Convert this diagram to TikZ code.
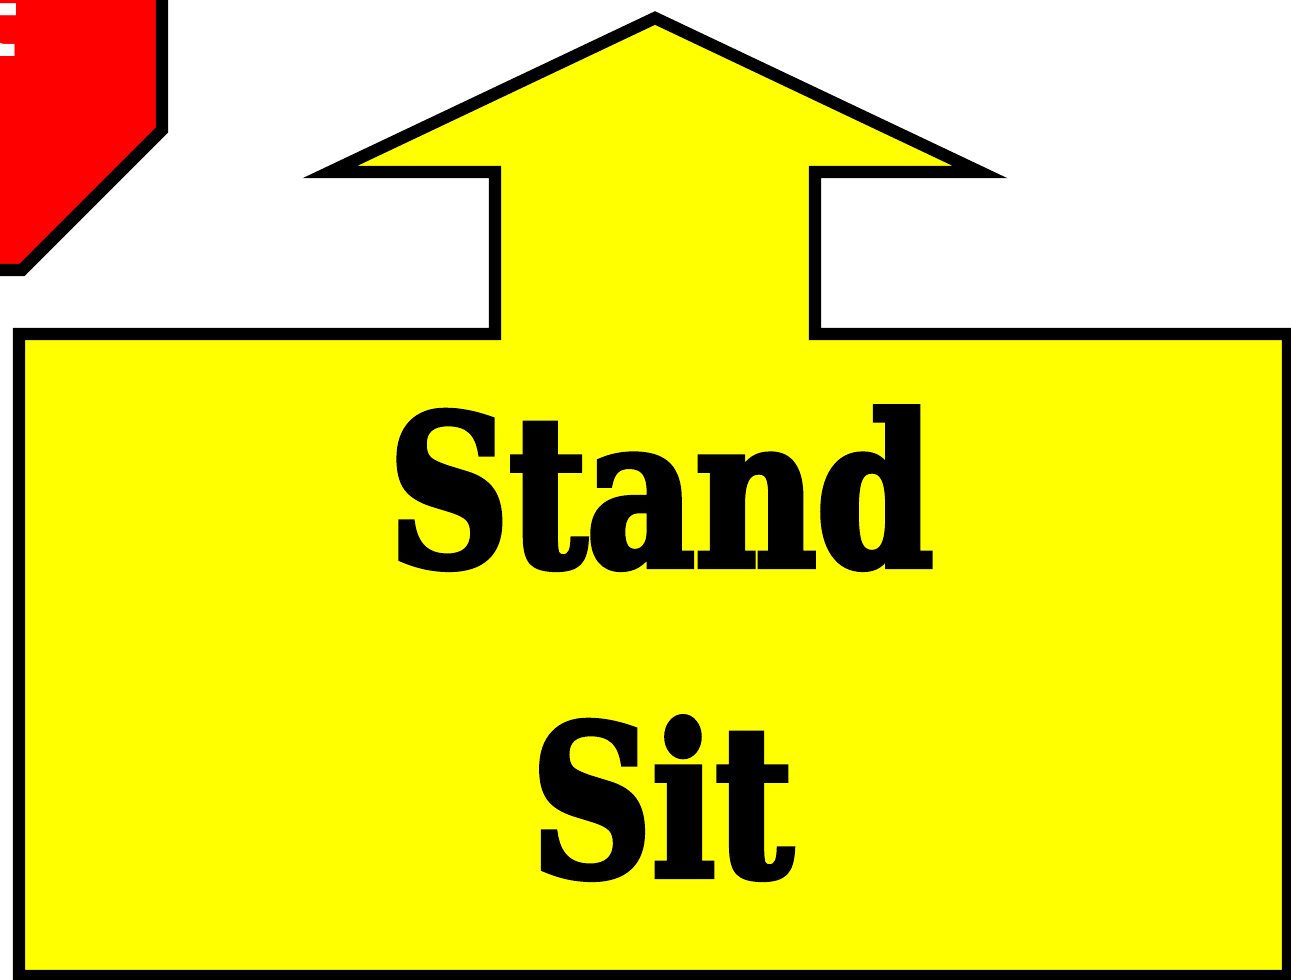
\documentclass[tikz,border=0pt]{standalone}
\usepackage{fontspec}
\newfontfamily\signfont[FakeStretch=0.8,FakeBold=3]{DejaVu Serif}
\newfontfamily\tagfont{DejaVu Sans}
\usetikzlibrary{positioning}
\definecolor{signyellow}{HTML}{FFFF00}
\definecolor{signred}{HTML}{FF0000}
\tikzset{
  outline/.style={draw=black,line width=7pt,miter limit=10},
  word/.style={font=\signfont\bfseries\fontsize{119}{119}\selectfont,inner sep=0pt,anchor=base}
}
\begin{document}
\begin{tikzpicture}[x=0.02cm,y=-0.02cm]
\useasboundingbox (0,0) rectangle (1291,980);
\clip (0,0) rectangle (1291,980);
% red sign, cut off at the corner
\draw[outline,fill=signred] (-200,-100) -- (162,-100) -- (162,130) -- (22,270) -- (-200,270) -- cycle;
\node[font=\tagfont\bfseries\fontsize{55}{55}\selectfont,text=white,inner sep=0pt,anchor=base east] (exitword) at (19,57) {t};
% yellow arrow sign
\draw[outline,fill=signyellow] (19,334) -- (495,334) -- (495,172) -- (330,172) -- (655,18)
  -- (980,172) -- (815,172) -- (815,334) -- (1288,334) -- (1288,976) -- (19,976) -- cycle;
\node[word] (stand) at (661,566) {Stand};
\node[word] (sit) at (662,876) {Sit};
\end{tikzpicture}
\end{document}
